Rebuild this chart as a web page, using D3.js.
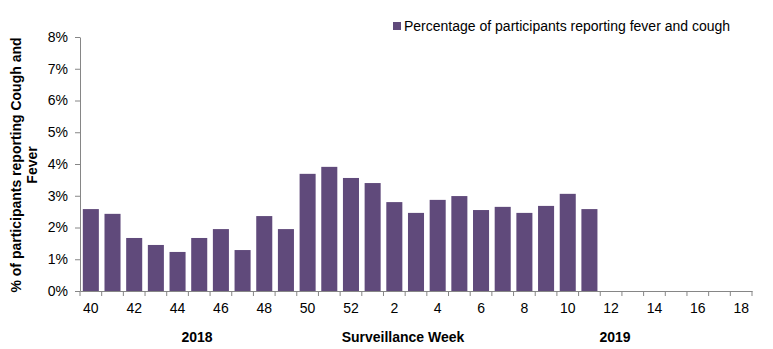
<!DOCTYPE html>
<html>
<head>
<meta charset="utf-8">
<script src="https://cdn.jsdelivr.net/npm/d3@7"></script>
<style>
  body { margin: 0; background: #fff; }
  svg { font-family: Arial, "Liberation Sans", sans-serif; }
</style>
</head>
<body>
<svg id="chart" width="773" height="349"></svg>
<script>
// weeks 40-52 of 2018, then 1-18 of 2019
const weeks = [40, 41, 42, 43, 44, 45, 46, 47, 48, 49, 50, 51, 52,
               1, 2, 3, 4, 5, 6, 7, 8, 9, 10, 11, 12, 13, 14, 15, 16, 17, 18];
// percentage reporting fever and cough (null = no data yet)
const pctValues = [2.58, 2.43, 1.67, 1.45, 1.23, 1.67, 1.95, 1.29, 2.36, 1.95, 3.69, 3.91, 3.56,
                   3.40, 2.80, 2.46, 2.87, 2.99, 2.55, 2.65, 2.46, 2.68, 3.06, 2.58,
                   null, null, null, null, null, null, null];
const weekLabels = [40, 42, 44, 46, 48, 50, 52, 2, 4, 6, 8, 10, 12, 14, 16, 18];
const yTicks = [0, 1, 2, 3, 4, 5, 6, 7, 8];
const seriesName = "Percentage of participants reporting fever and cough";

let margin = {top: 37, left: 80, right: 21, bottom: 58},
    width = 773 - margin.left - margin.right,
    height = 349 - margin.top - margin.bottom;

let svg = d3.select("#chart");
let g = svg.append("g")
    .attr("transform", "translate(" + margin.left + "," + margin.top + ")");

let x = d3.scaleBand()
    .domain(weeks)
    .range([0, width])
    .paddingInner(0.26)
    .paddingOuter(0.13);

let y = d3.scaleLinear().domain([0, 8]).range([height, 0]);

const axisColor = "#868686";
const barColor = "#604a7b";

// bars
let data = weeks.map((w, i) => ({week: w, value: pctValues[i]}))
    .filter(d => d.value != null);

g.selectAll("rect.bar")
    .data(data)
    .enter()
    .append("rect")
    .attr("class", "bar")
    .attr("x", d => x(d.week))
    .attr("y", d => y(d.value))
    .attr("width", x.bandwidth())
    .attr("height", d => height - y(d.value))
    .attr("fill", barColor);

// y axis
let yAxis = g.append("g")
    .call(d3.axisLeft(y).tickValues(yTicks).tickSize(5).tickSizeOuter(0)
        .tickFormat(d => d + "%"));
yAxis.select(".domain").attr("stroke", axisColor);
yAxis.selectAll(".tick line").attr("stroke", axisColor);
yAxis.selectAll("text")
    .attr("x", -12)
    .attr("font-size", 14)
    .attr("fill", "#000");

// x axis: tick marks on category boundaries, labels every other week
let xAxis = g.append("g")
    .attr("transform", "translate(0," + height + ")")
    .call(d3.axisBottom(x).tickValues(weekLabels).tickSize(0));
xAxis.select(".domain").attr("stroke", axisColor);
xAxis.selectAll("text")
    .attr("y", 12)
    .attr("font-size", 14)
    .attr("fill", "#000");

let boundaries = weeks.map(w => x(w) - x.step() * x.paddingInner() / 2);
boundaries.push(width);
xAxis.selectAll("line.boundary")
    .data(boundaries)
    .enter()
    .append("line")
    .attr("class", "boundary")
    .attr("x1", d => d).attr("x2", d => d)
    .attr("y1", 0).attr("y2", 5)
    .attr("stroke", axisColor);

// year and axis titles
let bottomLabels = [
    {text: "2018", pos: 197},
    {text: "Surveillance Week", pos: 403},
    {text: "2019", pos: 615}
];
svg.selectAll("text.xtitle")
    .data(bottomLabels)
    .enter()
    .append("text")
    .attr("class", "xtitle")
    .attr("x", d => d.pos)
    .attr("y", 342)
    .attr("text-anchor", "middle")
    .attr("font-size", 14)
    .attr("font-weight", "bold")
    .text(d => d.text);

let yTitle = svg.append("text")
    .attr("transform", "translate(21,165) rotate(-90)")
    .attr("text-anchor", "middle")
    .attr("font-size", 14)
    .attr("font-weight", "bold");
yTitle.append("tspan").attr("x", 0).attr("dy", 0).text("% of participants reporting Cough and");
yTitle.append("tspan").attr("x", 0).attr("dy", 16).text("Fever");

// legend
let legend = svg.append("g").attr("transform", "translate(393,27)");
legend.append("rect")
    .attr("x", 0).attr("y", -5)
    .attr("width", 8).attr("height", 8)
    .attr("fill", barColor);
legend.append("text")
    .attr("x", 11).attr("y", 4)
    .attr("font-size", 14)
    .text(seriesName);
</script>
</body>
</html>
